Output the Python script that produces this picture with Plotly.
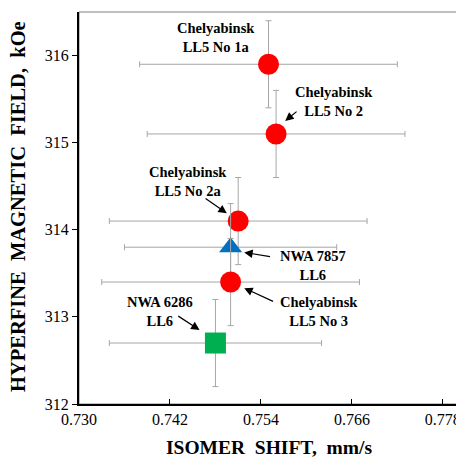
import plotly.graph_objects as go

# Data
names = ["Chelyabinsk LL5 No 1a", "Chelyabinsk LL5 No 2", "Chelyabinsk LL5 No 2a",
         "NWA 7857 LL6", "Chelyabinsk LL5 No 3", "NWA 6286 LL6"]
isomer_shift = [0.755, 0.756, 0.751, 0.750, 0.750, 0.748]
isomer_err = [0.017, 0.017, 0.017, 0.014, 0.017, 0.014]
hff = [315.9, 315.1, 314.1, 313.8, 313.4, 312.7]
hff_err = [0.5, 0.5, 0.5, 0.5, 0.5, 0.5]
symbols = ["circle", "circle", "circle", "triangle-up", "circle", "square"]
colors = ["#FF0000", "#FF0000", "#FF0000", "#0070C0", "#FF0000", "#00B050"]
sizes = [21, 21, 21, 20, 21, 21]

x_ticks = [0.730, 0.742, 0.754, 0.766, 0.778]
y_ticks = [312, 313, 314, 315, 316]

# label text positions and arrows (tail -> head) in data coords
labels = [
    ("<b>Chelyabinsk<br>LL5 No 1a</b>", 0.7481, 316.21, None),
    ("<b>Chelyabinsk<br>LL5 No 2</b>", 0.7636, 315.47, (0.7589, 315.37, 0.7572, 315.25)),
    ("<b>Chelyabinsk<br>LL5 No 2a</b>", 0.7444, 314.55, (0.7465, 314.37, 0.7495, 314.19)),
    ("<b>NWA 7857<br>LL6</b>", 0.7609, 313.59, (0.7554, 313.69, 0.7518, 313.74)),
    ("<b>Chelyabinsk<br>LL5 No 3</b>", 0.7617, 313.06, (0.7558, 313.17, 0.7518, 313.33)),
    ("<b>NWA 6286<br>LL6</b>", 0.7407, 313.06, (0.7429, 313.02, 0.7459, 312.85)),
]

FONT = "Liberation Serif, Times New Roman, serif"

fig = go.Figure()
for i in range(len(names)):
    fig.add_trace(go.Scatter(
        x=[isomer_shift[i]], y=[hff[i]], mode="markers", name=names[i],
        marker=dict(symbol=symbols[i], color=colors[i], size=sizes[i], line=dict(width=0)),
        error_x=dict(type="data", array=[isomer_err[i]], color="#A6A6A6", thickness=1, width=3),
        error_y=dict(type="data", array=[hff_err[i]], color="#A6A6A6", thickness=1, width=3),
        showlegend=False,
    ))

annotations = []
for text, tx, ty, arr in labels:
    annotations.append(dict(x=tx, y=ty, xref="x", yref="y", text=text, showarrow=False,
                            font=dict(family=FONT, size=14.5, color="black"), align="center"))
    if arr:
        x0, y0, x1, y1 = arr
        annotations.append(dict(x=x1, y=y1, ax=x0, ay=y0, xref="x", yref="y", axref="x", ayref="y",
                                text="", showarrow=True, arrowhead=2, arrowsize=1.4,
                                arrowwidth=1.2, arrowcolor="black"))

# axis titles
annotations.append(dict(x=0.5, y=-0.11, xref="paper", yref="paper", xanchor="center", yanchor="middle",
                        text="<b>ISOMER  SHIFT,  mm/s</b>", showarrow=False,
                        font=dict(family=FONT, size=19.5, color="black")))
annotations.append(dict(x=-0.161, y=0.505, xref="paper", yref="paper", xanchor="center", yanchor="middle",
                        text="<b>HYPERFINE  MAGNETIC  FIELD,  kOe</b>", showarrow=False, textangle=-90,
                        font=dict(family=FONT, size=20.5, color="black")))

# page body has an 8px margin, so the figure is sized to fit the window
fig.update_layout(
    width=456, height=449,
    margin=dict(l=71, r=6, t=4, b=53),
    paper_bgcolor="white", plot_bgcolor="white",
    font=dict(family=FONT, color="black"),
    annotations=annotations,
    shapes=[dict(type="rect", xref="paper", yref="paper", x0=0, y0=0, x1=1, y1=1,
                 line=dict(color="#808080", width=1), layer="below")],
    xaxis=dict(range=[0.730, 0.780], tickvals=x_ticks, ticktext=[f"{v:.3f}" for v in x_ticks],
               ticks="inside", ticklen=5, tickcolor="black", showgrid=False, zeroline=False,
               showline=True, linecolor="black", linewidth=2, automargin=False,
               tickfont=dict(family=FONT, size=16)),
    yaxis=dict(range=[312, 316.5], tickvals=y_ticks, ticktext=[str(v) for v in y_ticks],
               ticks="outside", ticklen=5, tickcolor="black", showgrid=False, zeroline=False,
               showline=True, linecolor="black", linewidth=2, automargin=False,
               tickfont=dict(family=FONT, size=16)),
)

fig.write_html("out.html")
